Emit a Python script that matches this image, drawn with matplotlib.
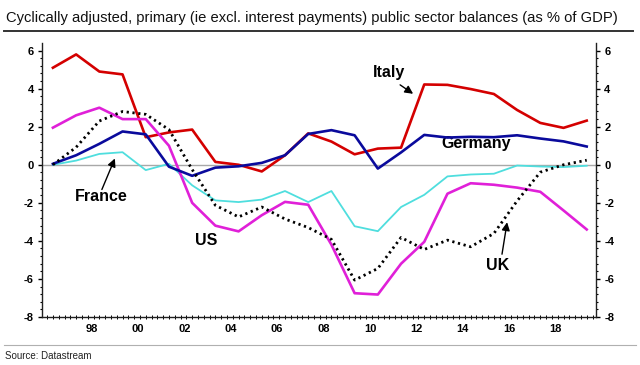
import numpy as np
import matplotlib
matplotlib.use("Agg")
import matplotlib.pyplot as plt
from matplotlib.lines import Line2D

plt.rcParams['font.family'] = ['Liberation Sans', 'DejaVu Sans']
plt.rcParams['axes.unicode_minus'] = False

# annual data, plotted at the end of each year
years = np.arange(1996, 2020)
italy = [5.1, 5.8, 4.9, 4.75, 1.45, 1.7, 1.85, 0.15, 0.0, -0.35, 0.5, 1.65,
         1.22, 0.55, 0.85, 0.9, 4.22, 4.2, 3.98, 3.72, 2.88, 2.2, 1.94, 2.32]
germany = [0.05, 0.5, 1.1, 1.75, 1.6, -0.1, -0.58, -0.15, -0.08, 0.1, 0.5, 1.62,
           1.82, 1.55, -0.2, 0.65, 1.57, 1.43, 1.47, 1.45, 1.55, 1.38, 1.23, 0.96]
us = [1.95, 2.6, 3.0, 2.4, 2.4, 1.0, -2.0, -3.2, -3.5, -2.65, -1.95, -2.1,
      -4.2, -6.75, -6.82, -5.2, -4.05, -1.52, -0.97, -1.05, -1.2, -1.42, -2.4, -3.4]
france = [0.0, 0.22, 0.57, 0.66, -0.28, 0.05, -1.08, -1.87, -1.96, -1.83, -1.38, -1.96,
          -1.38, -3.23, -3.49, -2.22, -1.58, -0.61, -0.51, -0.47, -0.04, -0.09, -0.12, -0.05]
uk = [0.0, 0.92, 2.3, 2.8, 2.65, 1.85, -0.25, -2.13, -2.74, -2.22, -2.85, -3.3,
      -3.92, -6.06, -5.45, -3.82, -4.45, -3.96, -4.31, -3.61, -1.9, -0.39, 0.0, 0.24]

tick_years = np.arange(1998, 2019, 2)
tick_labels = ['%02d' % (y % 100) for y in tick_years]

fig = plt.figure(figsize=(6.4, 3.65), dpi=100)
ax = fig.add_axes([42/640, 1-317/365, 554/640, 274/365])

x = years + 1
ax.axhline(0, color='#a8a8a8', lw=1, zorder=1)
ax.plot(x, france, color='#4fdede', lw=1.3, zorder=2)
ax.plot(x, italy, color='#d40000', lw=1.9, zorder=3)
ax.plot(x, germany, color='#0a0a9c', lw=1.9, zorder=4)
ax.plot(x, us, color='#e020d8', lw=1.9, zorder=3)
ax.plot(x, uk, color='black', lw=2.0, linestyle=(0, (0.8, 1.3)), zorder=5)

ax.set_xlim(1996.53, 2020.4)
ax.set_ylim(-8, 6.4)
ax.set_yticks(np.arange(-8, 7, 2))
ax.set_yticks(np.arange(-8, 6.4, 0.4), minor=True)
ax.set_xticks(tick_years + 0.66, tick_labels)
ax.set_xticks(np.arange(1996.75, 2020.4, 0.25), minor=True)

for s in ['left', 'right', 'bottom']:
    ax.spines[s].set_color('#202020')
    ax.spines[s].set_linewidth(1.0)
ax.spines['top'].set_visible(False)

ax.tick_params(axis='y', which='major', direction='out', length=3, width=1,
               left=True, right=True, labelleft=True, labelright=True,
               labelsize=8, pad=3)
ax.tick_params(axis='y', which='minor', direction='out', length=1.5, width=0.8,
               left=True, right=True)
ax.tick_params(axis='x', which='major', length=0, labelsize=8, pad=5)
ax.tick_params(axis='x', which='minor', direction='inout', length=2.5, width=0.7)
for lab in ax.get_xticklabels() + ax.yaxis.get_ticklabels():
    lab.set_fontweight('bold')

lab_kw = dict(fontsize=11.5, fontweight='bold', ha='center', va='center')
arrow = dict(arrowstyle='-|>', color='black', lw=1.0, mutation_scale=12,
             shrinkA=0, shrinkB=0)
ax.text(2011.48, 4.83, 'Italy', **lab_kw)
ax.annotate('', xy=(2012.52, 3.73), xytext=(2011.96, 4.2), arrowprops=arrow)
ax.text(2015.23, 1.12, 'Germany', **lab_kw)
ax.text(1999.07, -1.66, 'France', **lab_kw)
ax.annotate('', xy=(1999.67, 0.33), xytext=(1999.11, -1.3), arrowprops=arrow)
ax.text(2003.6, -3.96, 'US', **lab_kw)
ax.text(2016.18, -5.27, 'UK', **lab_kw)
ax.annotate('', xy=(2016.57, -3.02), xytext=(2016.35, -4.7), arrowprops=arrow)

fig.text(6/640, 1-18/365,
         'Cyclically adjusted, primary (ie excl. interest payments) public sector balances (as % of GDP)',
         fontsize=10.6, ha='left', va='center', color='#111111')
fig.add_artist(Line2D([4/640, 633/640], [1-31/365, 1-31/365],
                      color='#333333', lw=1.4, transform=fig.transFigure))
fig.add_artist(Line2D([4/640, 636/640], [1-345/365, 1-345/365],
                      color='#b0b0b0', lw=0.8, transform=fig.transFigure))
fig.text(5/640, 1-356/365, 'Source: Datastream', fontsize=7, ha='left',
         va='center', color='#222222')

fig.savefig('out.png', dpi=100)
